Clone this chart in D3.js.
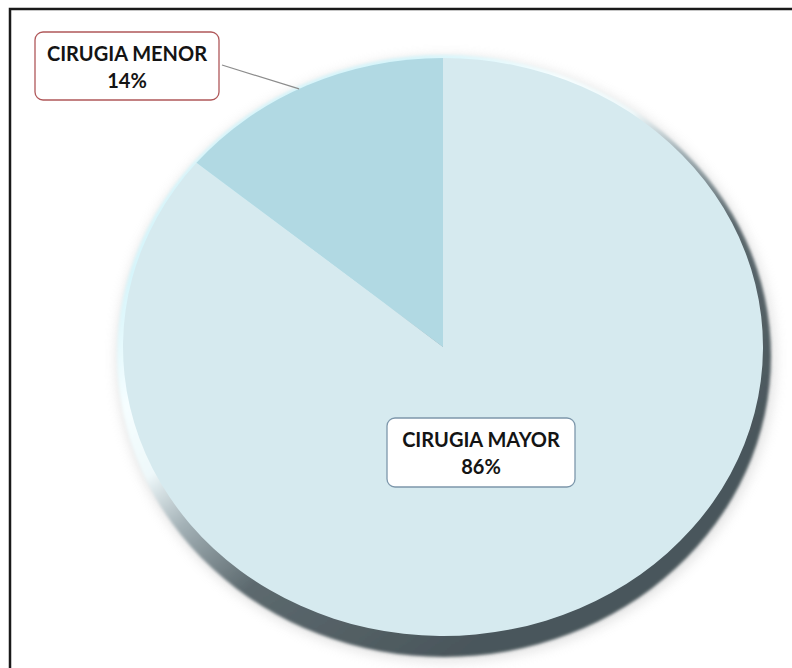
<!DOCTYPE html>
<html>
<head>
<meta charset="utf-8">
<script src="https://cdn.jsdelivr.net/npm/d3@7"></script>
<style>
  html, body { margin: 0; padding: 0; background: #ffffff; }
  svg { display: block; }
</style>
</head>
<body>
<script>
// Surgery type breakdown
const categories = ["CIRUGIA MAYOR", "CIRUGIA MENOR"];
const values = [86, 14];
const sliceColors = ["#d0e3e8", "#acd3dd"];

const W = 792, H = 668;
const svg = d3.select("body").append("svg")
  .attr("width", W).attr("height", H);
const defs = svg.append("defs");

// Pie face geometry (slightly elliptical, as drawn in perspective)
const cx = 443, cy = 347, rx = 320, ry = 289;
const R = 100;

// Soft drop shadow around the disc
const fShadow = defs.append("filter").attr("id", "softShadow")
  .attr("x", "-20%").attr("y", "-20%").attr("width", "140%").attr("height", "140%");
fShadow.append("feGaussianBlur").attr("stdDeviation", 6);

const fRim = defs.append("filter").attr("id", "rimBlur")
  .attr("x", "-10%").attr("y", "-10%").attr("width", "120%").attr("height", "120%");
fRim.append("feGaussianBlur").attr("stdDeviation", 1.6);

// Bevel rim: light on the upper-left, dark on the lower-right
const rimGrad = defs.append("linearGradient").attr("id", "rimGrad")
  .attr("gradientUnits", "userSpaceOnUse")
  .attr("x1", 180).attr("y1", 240).attr("x2", 480).attr("y2", 640);
[[0, "#d6f5fb"], [0.2, "#f6feff"], [0.34, "#eef8fa"], [0.46, "#a3b1b6"], [0.64, "#5c696e"], [1, "#4a565b"]]
  .forEach(([o, c]) => rimGrad.append("stop").attr("offset", o).attr("stop-color", c));

// Gentle shading across each slice
sliceColors.forEach((c, i) => {
  const g = defs.append("linearGradient").attr("id", "face" + i)
    .attr("gradientUnits", "userSpaceOnUse")
    .attr("x1", cx - rx).attr("y1", cy).attr("x2", cx + rx).attr("y2", cy);
  g.append("stop").attr("offset", 0).attr("stop-color", d3.color(c).brighter(0.08));
  g.append("stop").attr("offset", 1).attr("stop-color", d3.color(c).darker(0.04));
});

// Outer shadow
svg.append("ellipse")
  .attr("cx", cx + 3).attr("cy", cy + 12).attr("rx", rx + 10).attr("ry", ry + 14)
  .attr("fill", "#bdbdbd").attr("opacity", 0.4)
  .attr("filter", "url(#softShadow)");

// Rim / thickness of the disc
svg.append("ellipse")
  .attr("cx", cx + 1).attr("cy", cy + 9).attr("rx", rx + 7).attr("ry", ry + 12)
  .attr("fill", "url(#rimGrad)")
  .attr("filter", "url(#rimBlur)");

// Pie slices
const pie = d3.pie().sort(null).value(d => d);
const arcs = pie(values);
const arc = d3.arc().innerRadius(0).outerRadius(R);

const face = svg.append("g")
  .attr("transform", `translate(${cx},${cy}) scale(${rx / R},${ry / R})`);
face.selectAll("path.slice")
  .data(arcs)
  .join("path")
  .attr("class", "slice")
  .attr("d", arc)
  .attr("fill", (d, i) => `url(#face${i})`);

// Data labels
const total = d3.sum(values);
const pct = d3.format(".0%");

const labelBoxes = [
  { x: 387, y: 418, w: 188, h: 69, stroke: "#7d97ab" },   // CIRUGIA MAYOR
  { x: 35,  y: 32,  w: 184, h: 68, stroke: "#b0585a" }    // CIRUGIA MENOR
];

// Leader line from the small slice to its label
const minorArc = arcs[1];
const edgeAngle = minorArc.startAngle + (minorArc.endAngle - minorArc.startAngle) * 0.47;
const ex = cx + rx * Math.sin(edgeAngle);
const ey = cy - ry * Math.cos(edgeAngle);
svg.append("polyline")
  .attr("points", `${labelBoxes[1].x + labelBoxes[1].w + 3},${labelBoxes[1].y + 33} ${ex},${ey}`)
  .attr("fill", "none").attr("stroke", "#8c8c8c").attr("stroke-width", 1.2);

const labels = svg.selectAll("g.label")
  .data(categories)
  .join("g")
  .attr("class", "label")
  .attr("transform", (d, i) => `translate(${labelBoxes[i].x},${labelBoxes[i].y})`);

labels.append("rect")
  .attr("width", (d, i) => labelBoxes[i].w)
  .attr("height", (d, i) => labelBoxes[i].h)
  .attr("rx", 8).attr("ry", 8)
  .attr("fill", "#ffffff")
  .attr("stroke", (d, i) => labelBoxes[i].stroke)
  .attr("stroke-width", 1.3);

labels.append("text")
  .attr("x", (d, i) => labelBoxes[i].w / 2)
  .attr("y", 29)
  .attr("text-anchor", "middle")
  .attr("font-family", "Lato, 'Open Sans', sans-serif")
  .attr("font-weight", "bold")
  .attr("font-size", 20)
  .attr("fill", "#141414")
  .text(d => d);

labels.append("text")
  .attr("x", (d, i) => labelBoxes[i].w / 2)
  .attr("y", 56)
  .attr("text-anchor", "middle")
  .attr("font-family", "Lato, 'Open Sans', sans-serif")
  .attr("font-weight", "bold")
  .attr("font-size", 20)
  .attr("fill", "#141414")
  .text((d, i) => pct(values[i] / total));

// Frame
svg.append("rect")
  .attr("x", 10).attr("y", 9).attr("width", W + 20).attr("height", H + 20)
  .attr("fill", "none").attr("stroke", "#1a1a1a").attr("stroke-width", 2.5);
</script>
</body>
</html>
